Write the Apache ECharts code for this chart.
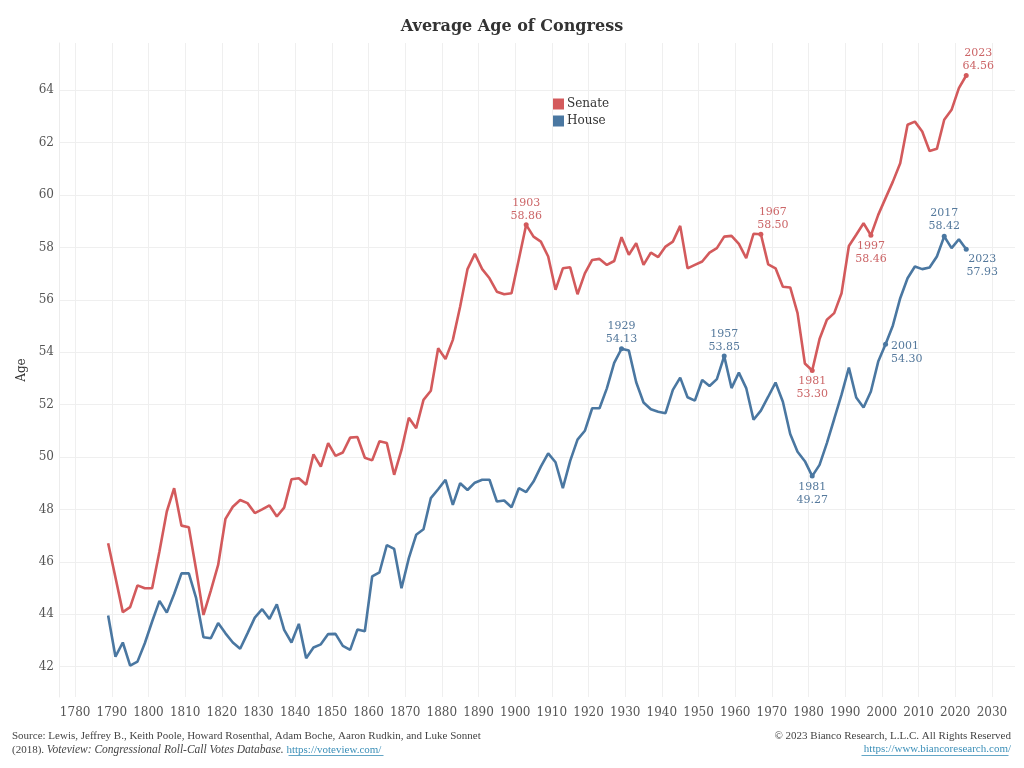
<!DOCTYPE html>
<html>
<head>
<meta charset="utf-8">
<script src="https://cdn.jsdelivr.net/npm/echarts@6/dist/echarts.min.js"></script>
<style>
html,body{margin:0;padding:0;background:#fff;}
#chart{width:1024px;height:768px;}
</style>
</head>
<body>
<div id="chart"></div>
<script>
const years = [1789,1791,1793,1795,1797,1799,1801,1803,1805,1807,1809,1811,1813,1815,1817,1819,1821,1823,1825,1827,1829,1831,1833,1835,1837,1839,1841,1843,1845,1847,1849,1851,1853,1855,1857,1859,1861,1863,1865,1867,1869,1871,1873,1875,1877,1879,1881,1883,1885,1887,1889,1891,1893,1895,1897,1899,1901,1903,1905,1907,1909,1911,1913,1915,1917,1919,1921,1923,1925,1927,1929,1931,1933,1935,1937,1939,1941,1943,1945,1947,1949,1951,1953,1955,1957,1959,1961,1963,1965,1967,1969,1971,1973,1975,1977,1979,1981,1983,1985,1987,1989,1991,1993,1995,1997,1999,2001,2003,2005,2007,2009,2011,2013,2015,2017,2019,2021,2023];

const senate = [46.71,45.40,44.08,44.27,45.10,44.99,44.99,46.40,47.92,48.81,47.38,47.32,45.70,43.97,44.90,45.88,47.64,48.10,48.36,48.24,47.86,48.00,48.15,47.73,48.07,49.15,49.19,48.94,50.10,49.63,50.53,50.04,50.17,50.74,50.76,49.97,49.87,50.60,50.53,49.32,50.27,51.50,51.10,52.18,52.53,54.15,53.74,54.47,55.74,57.17,57.75,57.17,56.82,56.31,56.21,56.25,57.55,58.86,58.41,58.22,57.65,56.38,57.20,57.24,56.21,57.01,57.52,57.56,57.33,57.48,58.39,57.72,58.16,57.33,57.80,57.63,58.03,58.22,58.82,57.20,57.33,57.46,57.80,57.97,58.41,58.44,58.13,57.59,58.52,58.50,57.35,57.20,56.50,56.47,55.49,53.57,53.30,54.50,55.24,55.49,56.25,58.05,58.48,58.92,58.46,59.24,59.88,60.51,61.21,62.68,62.80,62.42,61.68,61.76,62.87,63.25,64.08,64.56];

const house = [43.95,42.38,42.92,42.04,42.19,42.89,43.72,44.51,44.06,44.77,45.56,45.56,44.61,43.12,43.08,43.66,43.27,42.92,42.68,43.27,43.87,44.19,43.82,44.38,43.40,42.92,43.63,42.32,42.73,42.85,43.24,43.25,42.79,42.64,43.42,43.35,45.44,45.60,46.64,46.49,44.99,46.14,47.03,47.24,48.43,48.77,49.13,48.17,49.00,48.74,49.02,49.13,49.13,48.30,48.34,48.08,48.81,48.66,49.06,49.63,50.14,49.80,48.81,49.85,50.66,51.00,51.86,51.86,52.62,53.59,54.13,54.06,52.85,52.08,51.82,51.73,51.67,52.56,53.03,52.28,52.15,52.94,52.71,52.97,53.85,52.63,53.22,52.63,51.42,51.77,52.30,52.84,52.11,50.88,50.20,49.84,49.27,49.70,50.53,51.45,52.38,53.41,52.27,51.89,52.50,53.64,54.30,55.02,56.06,56.82,57.27,57.17,57.23,57.65,58.42,57.97,58.31,57.93];

const xTicks = [1780,1790,1800,1810,1820,1830,1840,1850,1860,1870,1880,1890,1900,1910,1920,1930,1940,1950,1960,1970,1980,1990,2000,2010,2020,2030];
const yTicks = [42,44,46,48,50,52,54,56,58,60,62,64];

const senateNotes = [1903, 1967, 1981, 1997, 2023];
const houseNotes = [1929, 1957, 1981, 2001, 2017, 2023];

const SENATE_C = '#d35a5c';
const HOUSE_C = '#4a77a1';
const SENATE_T = '#cc6668';
const HOUSE_T = '#55799c';
const FONT = "'DejaVu Serif', 'Liberation Serif', serif";

function pairs(vals) { return years.map((y, i) => [y, vals[i]]); }
function val(vals, yr) { return vals[years.indexOf(yr)]; }

const senateLabelPos = {
  1903: {position: 'top', offset: [0, 3]},
  1967: {position: 'top', offset: [12, 3]},
  1981: {position: 'bottom', offset: [0, -1]},
  1997: {position: 'bottom', offset: [0, -1]},
  2023: {position: 'top', offset: [12, 3]}
};
const houseLabelPos = {
  1929: {position: 'top', offset: [0, 2]},
  1957: {position: 'top', offset: [0, 3]},
  1981: {position: 'bottom', offset: [0, -1]},
  2001: {position: 'right', offset: [0, 8]},
  2017: {position: 'top', offset: [0, 2]},
  2023: {position: 'bottom', offset: [16, -2]}
};

function marks(vals, notes, posMap, tcolor) {
  return notes.map(yr => {
    const v = val(vals, yr);
    return {
      coord: [yr, v],
      value: v,
      label: Object.assign({
        show: true,
        formatter: yr + '\n' + v.toFixed(2),
        color: tcolor,
        fontFamily: FONT,
        fontSize: 11,
        lineHeight: 13,
        distance: 3
      }, posMap[yr])
    };
  });
}

const chart = echarts.init(document.getElementById('chart'), null, {renderer: 'canvas'});
chart.setOption({
  backgroundColor: '#ffffff',
  animation: false,
  title: {
    text: 'Average Age of Congress',
    left: 'center',
    top: 14,
    textStyle: {fontFamily: FONT, fontSize: 16, fontWeight: 'bold', color: '#333'}
  },
  legend: {
    orient: 'vertical',
    left: 548,
    top: 93,
    itemWidth: 11,
    itemHeight: 11,
    itemGap: 5,
    icon: 'rect',
    textStyle: {fontFamily: FONT, fontSize: 12, color: '#333', padding: [0, 0, 0, -2]},
    data: ['Senate', 'House']
  },
  grid: {left: 59, right: 9, top: 43, bottom: 71, containLabel: false},
  xAxis: {
    type: 'value',
    min: 1775.6,
    max: 2036.3,
    axisLine: {show: false},
    axisTick: {show: false, customValues: xTicks},
    axisLabel: {customValues: xTicks, formatter: v => String(v), color: '#555', fontFamily: FONT, fontSize: 12, margin: 10},
    splitLine: {show: true, lineStyle: {color: '#efefef', width: 1}}
  },
  yAxis: {
    type: 'value',
    min: 40.84,
    max: 65.8,
    name: 'Age',
    nameLocation: 'middle',
    nameGap: 27,
    nameTextStyle: {fontFamily: FONT, fontSize: 12, color: '#333'},
    axisLine: {show: true, lineStyle: {color: '#ececec'}},
    axisTick: {show: false, customValues: yTicks},
    axisLabel: {customValues: yTicks, formatter: v => String(v), color: '#555', fontFamily: FONT, fontSize: 12, margin: 5},
    splitLine: {show: true, lineStyle: {color: '#efefef', width: 1}}
  },
  series: [
    {
      name: 'Senate',
      type: 'line',
      data: pairs(senate),
      showSymbol: false,
      color: SENATE_C,
      lineStyle: {width: 2.6, color: SENATE_C},
      z: 3,
      markPoint: {
        symbol: 'circle',
        symbolSize: 5,
        itemStyle: {color: SENATE_C},
        data: marks(senate, senateNotes, senateLabelPos, SENATE_T)
      }
    },
    {
      name: 'House',
      type: 'line',
      data: pairs(house),
      showSymbol: false,
      color: HOUSE_C,
      lineStyle: {width: 2.6, color: HOUSE_C},
      z: 3,
      markPoint: {
        symbol: 'circle',
        symbolSize: 5,
        itemStyle: {color: HOUSE_C},
        data: marks(house, houseNotes, houseLabelPos, HOUSE_T)
      }
    }
  ],
  graphic: [
    {
      type: 'text', left: 12, top: 731,
      style: {
        text: 'Source: Lewis, Jeffrey B., Keith Poole, Howard Rosenthal, Adam Boche, Aaron Rudkin, and Luke Sonnet',
        font: "11px 'Liberation Serif', serif", fill: '#444'
      }
    },
    {
      type: 'text', left: 12, top: 744,
      style: {
        text: '{n|(2018). }{i|Voteview: Congressional Roll-Call Votes Database.}{n| }{u|https://voteview.com/}',
        font: "11px 'Liberation Serif', serif",
        rich: {
          n: {fontFamily: 'Liberation Serif', fontSize: 11, fill: '#444'},
          i: {fontFamily: 'Liberation Serif', fontSize: 11.5, fontStyle: 'italic', fill: '#444'},
          u: {fontFamily: 'Liberation Serif', fontSize: 11, fill: '#3b8fb8'}
        }
      }
    },
    {
      type: 'text', right: 13, top: 744,
      style: {
        text: 'https://www.biancoresearch.com/',
        font: "11px 'Liberation Serif', serif", fill: '#3b8fb8'
      }
    },
    {
      type: 'text', right: 13, top: 731,
      style: {
        text: '\u00a9 2023 Bianco Research, L.L.C. All Rights Reserved',
        font: "11px 'Liberation Serif', serif", fill: '#444'
      }
    },
    {
      type: 'line', right: 13, top: 753,
      shape: {x1: 0, y1: 0, x2: 147, y2: 0},
      style: {stroke: '#3b8fb8', lineWidth: 0.8}
    },
    {
      type: 'line', left: 286, top: 753,
      shape: {x1: 0, y1: 0, x2: 95, y2: 0},
      style: {stroke: '#3b8fb8', lineWidth: 0.8}
    }
  ]
});
</script>
</body>
</html>
